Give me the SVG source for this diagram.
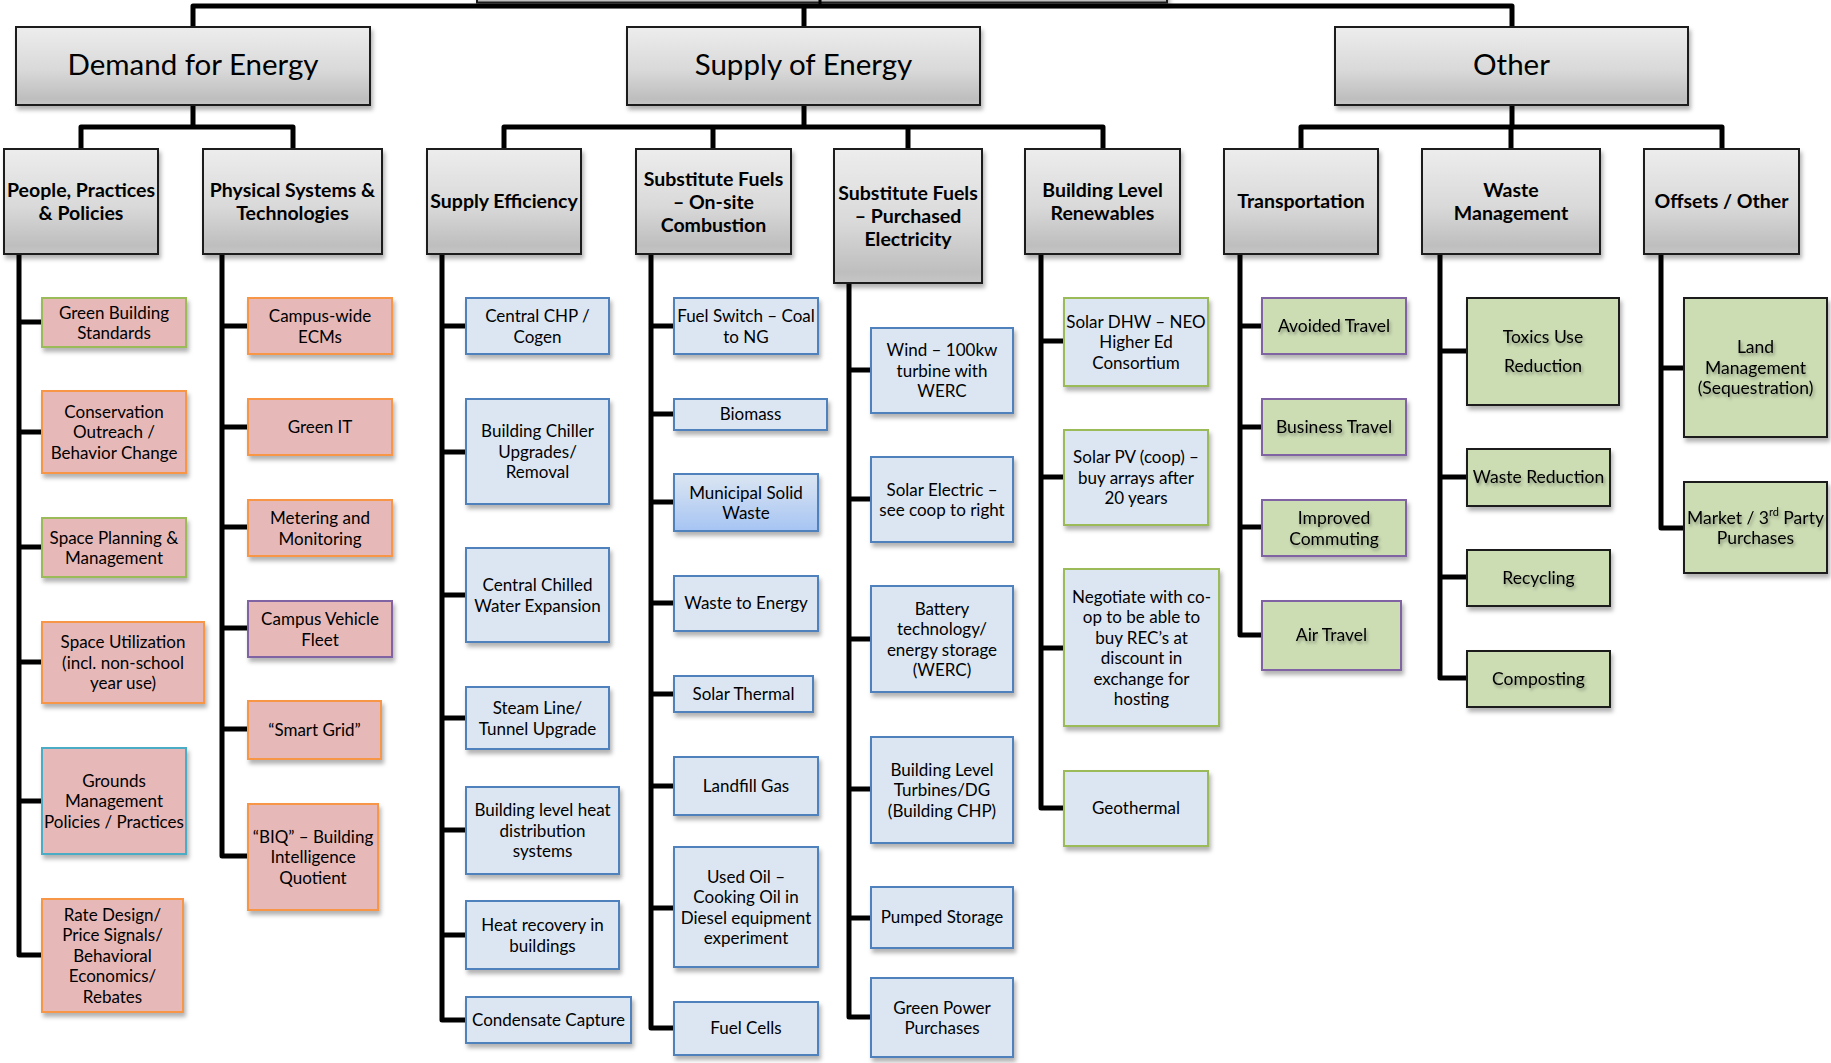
<svg xmlns="http://www.w3.org/2000/svg" width="1831" height="1063" viewBox="0 0 1831 1063">
<defs>
<linearGradient id="gg" x1="0" y1="0" x2="0" y2="1">
<stop offset="0" stop-color="#EDEDED"/><stop offset="0.55" stop-color="#D9D9D9"/><stop offset="0.92" stop-color="#BEBEBE"/><stop offset="1" stop-color="#C6C6C6"/>
</linearGradient>
<linearGradient id="msw" x1="0" y1="0" x2="0" y2="1">
<stop offset="0" stop-color="#DCE6F2"/><stop offset="1" stop-color="#A6C4F3"/>
</linearGradient>
<filter id="sh" x="-10%" y="-10%" width="125%" height="135%">
<feDropShadow dx="2" dy="4" stdDeviation="2" flood-color="#000" flood-opacity="0.3"/>
</filter>
<filter id="tsh" x="-10%" y="-20%" width="125%" height="160%">
<feDropShadow dx="1.5" dy="2.5" stdDeviation="1.5" flood-color="#000" flood-opacity="0.35"/>
</filter>
<style>
text{font-family:Lato,"Liberation Sans",sans-serif;fill:#000;text-anchor:middle;dominant-baseline:central}
.hdr rect{fill:url(#gg);stroke:#1a1a1a;stroke-width:2;filter:url(#sh)}
.top text{font-size:29.5px}
.mid text{font-size:19.5px;font-weight:bold}
.leaf rect{stroke-width:2;filter:url(#sh)}
.leaf text{font-size:17px}
.pink rect{fill:#E6B9B8}
.blue rect{fill:#DCE6F2}
.grn rect{fill:#CCDDB4}
.grn text{filter:url(#tsh);font-size:17.5px}
.so rect{stroke:#F79646}
.sg rect{stroke:#9BBB59}
.sb rect{stroke:#4F81BD}
.sc rect{stroke:#4BACC6}
.sp rect{stroke:#8064A2}
.sk rect{stroke:#1a1a1a}
</style>
</defs>
<rect width="1831" height="1063" fill="#fff"/>

<g id="root" class="hdr"><rect x="477" y="-20" width="690" height="22.5"/></g>

<g id="connectors" fill="none" stroke="#000" stroke-width="5" stroke-linejoin="round">
<path d="M193,27V6H1512V27M804,6V27"/>
<path d="M820,0V6" stroke-width="3"/>
<path d="M193,105V127M81,149V127H293V149"/>
<path d="M804,105V127M504,149V127H1103V149M713,127V149M908,127V149"/>
<path d="M1512,105V127M1301,149V127H1722V149M1511,127V149"/>
<path d="M19,254V955H42M19,322H42M19,432H42M19,547H42M19,662H42M19,801H42"/>
<path d="M222,254V856H248M222,326H248M222,427H248M222,527H248M222,628H248M222,729H248"/>
<path d="M442,254V1020H466M442,326H466M442,452H466M442,595H466M442,718H466M442,830H466M442,935H466"/>
<path d="M651,254V1028H674M651,326H674M651,414H674M651,502H674M651,603H674M651,694H674M651,786H674M651,908H674"/>
<path d="M849,283V1017H871M849,370H871M849,499H871M849,639H871M849,789H871M849,918H871"/>
<path d="M1041,254V808H1064M1041,341H1064M1041,477H1064M1041,648H1064"/>
<path d="M1240,254V635H1262M1240,326H1262M1240,427H1262M1240,527H1262"/>
<path d="M1440,254V678H1467M1440,351H1467M1440,477H1467M1440,577H1467"/>
<path d="M1661,254V528H1684M1661,368H1684"/>
</g>

<!-- top level -->
<g id="demand" class="hdr top"><rect x="16" y="27" width="354" height="78"/><text x="193" y="63">Demand for Energy</text></g>
<g id="supply" class="hdr top"><rect x="627" y="27" width="353" height="78"/><text x="803.5" y="63">Supply of Energy</text></g>
<g id="other" class="hdr top"><rect x="1335" y="27" width="353" height="78"/><text x="1511.5" y="63">Other</text></g>

<!-- second level -->
<g id="people" class="hdr mid"><rect x="4" y="149" width="154" height="105"/><text x="81" y="189"><tspan x="81">People, Practices</tspan><tspan x="81" dy="23">&amp; Policies</tspan></text></g>
<g id="physical" class="hdr mid"><rect x="203" y="149" width="179" height="105"/><text x="292.5" y="189"><tspan x="292.5">Physical Systems &amp;</tspan><tspan x="292.5" dy="23">Technologies</tspan></text></g>
<g id="supplyeff" class="hdr mid"><rect x="427" y="149" width="154" height="105"/><text x="504" y="200.5">Supply Efficiency</text></g>
<g id="onsite" class="hdr mid"><rect x="636" y="149" width="155" height="105"/><text x="713.5" y="177.5"><tspan x="713.5">Substitute Fuels</tspan><tspan x="713.5" dy="23">– On-site</tspan><tspan x="713.5" dy="23">Combustion</tspan></text></g>
<g id="purchased" class="hdr mid"><rect x="834" y="149" width="148" height="134"/><text x="908" y="192"><tspan x="908">Substitute Fuels</tspan><tspan x="908" dy="23">– Purchased</tspan><tspan x="908" dy="23">Electricity</tspan></text></g>
<g id="blr" class="hdr mid"><rect x="1025" y="149" width="155" height="105"/><text x="1102.5" y="189"><tspan x="1102.5">Building Level</tspan><tspan x="1102.5" dy="23">Renewables</tspan></text></g>
<g id="transport" class="hdr mid"><rect x="1224" y="149" width="154" height="105"/><text x="1301" y="200.5">Transportation</text></g>
<g id="waste" class="hdr mid"><rect x="1422" y="149" width="178" height="105"/><text x="1511" y="189"><tspan x="1511">Waste</tspan><tspan x="1511" dy="23">Management</tspan></text></g>
<g id="offsets" class="hdr mid"><rect x="1644" y="149" width="155" height="105"/><text x="1721.5" y="200.5">Offsets / Other</text></g>

<!-- People column -->
<g id="gbs" class="leaf pink sg"><rect x="42" y="298" width="144" height="49"/><text y="311.5"><tspan x="114">Green Building</tspan><tspan x="114" dy="20.5">Standards</tspan></text></g>
<g id="cons" class="leaf pink so"><rect x="42" y="391" width="144" height="82"/><text y="410.5"><tspan x="114">Conservation</tspan><tspan x="114" dy="20.5">Outreach /</tspan><tspan x="114" dy="20.5">Behavior Change</tspan></text></g>
<g id="spm" class="leaf pink sg"><rect x="42" y="518" width="144" height="59"/><text y="536.5"><tspan x="114">Space Planning &amp;</tspan><tspan x="114" dy="20.5">Management</tspan></text></g>
<g id="su" class="leaf pink so"><rect x="42" y="622" width="162" height="81"/><text y="641"><tspan x="123">Space Utilization</tspan><tspan x="123" dy="20.5">(incl. non-school</tspan><tspan x="123" dy="20.5">year use)</tspan></text></g>
<g id="gm" class="leaf pink sc"><rect x="42" y="748" width="144" height="106"/><text y="779.5"><tspan x="114">Grounds</tspan><tspan x="114" dy="20.5">Management</tspan><tspan x="114" dy="20.5">Policies / Practices</tspan></text></g>
<g id="rate" class="leaf pink so"><rect x="42" y="899" width="141" height="113"/><text y="913.5"><tspan x="112.5">Rate Design/</tspan><tspan x="112.5" dy="20.5">Price Signals/</tspan><tspan x="112.5" dy="20.5">Behavioral</tspan><tspan x="112.5" dy="20.5">Economics/</tspan><tspan x="112.5" dy="20.5">Rebates</tspan></text></g>

<!-- Physical column -->
<g id="ecms" class="leaf pink so"><rect x="248" y="298" width="144" height="56"/><text y="315"><tspan x="320">Campus-wide</tspan><tspan x="320" dy="20.5">ECMs</tspan></text></g>
<g id="greenit" class="leaf pink so"><rect x="248" y="399" width="144" height="56"/><text x="320" y="426">Green IT</text></g>
<g id="meter" class="leaf pink so"><rect x="248" y="500" width="144" height="56"/><text y="517"><tspan x="320">Metering and</tspan><tspan x="320" dy="20.5">Monitoring</tspan></text></g>
<g id="fleet" class="leaf pink sp"><rect x="248" y="601" width="144" height="56"/><text y="618"><tspan x="320">Campus Vehicle</tspan><tspan x="320" dy="20.5">Fleet</tspan></text></g>
<g id="smartgrid" class="leaf pink so"><rect x="248" y="701" width="133" height="58"/><text x="314.5" y="729">“Smart Grid”</text></g>
<g id="biq" class="leaf pink so"><rect x="248" y="804" width="130" height="106"/><text y="835.5"><tspan x="313">“BIQ” – Building</tspan><tspan x="313" dy="20.5">Intelligence</tspan><tspan x="313" dy="20.5">Quotient</tspan></text></g>

<!-- Supply efficiency column -->
<g id="chp" class="leaf blue sb"><rect x="466" y="298" width="143" height="56"/><text y="315"><tspan x="537.5">Central CHP /</tspan><tspan x="537.5" dy="20.5">Cogen</tspan></text></g>
<g id="chiller" class="leaf blue sb"><rect x="466" y="399" width="143" height="105"/><text y="430"><tspan x="537.5">Building Chiller</tspan><tspan x="537.5" dy="20.5">Upgrades/</tspan><tspan x="537.5" dy="20.5">Removal</tspan></text></g>
<g id="ccw" class="leaf blue sb"><rect x="466" y="548" width="143" height="94"/><text y="584"><tspan x="537.5">Central Chilled</tspan><tspan x="537.5" dy="20.5">Water Expansion</tspan></text></g>
<g id="steam" class="leaf blue sb"><rect x="466" y="687" width="143" height="62"/><text y="707"><tspan x="537.5">Steam Line/</tspan><tspan x="537.5" dy="20.5">Tunnel Upgrade</tspan></text></g>
<g id="heatdist" class="leaf blue sb"><rect x="466" y="787" width="153" height="87"/><text y="809"><tspan x="542.5">Building level heat</tspan><tspan x="542.5" dy="20.5">distribution</tspan><tspan x="542.5" dy="20.5">systems</tspan></text></g>
<g id="heatrec" class="leaf blue sb"><rect x="466" y="901" width="153" height="68"/><text y="924"><tspan x="542.5">Heat recovery in</tspan><tspan x="542.5" dy="20.5">buildings</tspan></text></g>
<g id="condensate" class="leaf blue sb"><rect x="466" y="997" width="165" height="46"/><text x="548.5" y="1019">Condensate Capture</text></g>

<!-- On-site column -->
<g id="fuelswitch" class="leaf blue sb"><rect x="674" y="298" width="144" height="56"/><text y="315"><tspan x="746">Fuel Switch – Coal</tspan><tspan x="746" dy="20.5">to NG</tspan></text></g>
<g id="biomass" class="leaf blue sb"><rect x="674" y="399" width="153" height="31"/><text x="750.5" y="413.5">Biomass</text></g>
<g id="msw" class="leaf sb"><rect x="674" y="474" width="144" height="57" fill="url(#msw)"/><text y="491.5"><tspan x="746">Municipal Solid</tspan><tspan x="746" dy="20.5">Waste</tspan></text></g>
<g id="wte" class="leaf blue sb"><rect x="674" y="576" width="144" height="55"/><text x="746" y="602.5">Waste to Energy</text></g>
<g id="solarthermal" class="leaf blue sb"><rect x="674" y="676" width="139" height="36"/><text x="743.5" y="693">Solar Thermal</text></g>
<g id="landfill" class="leaf blue sb"><rect x="674" y="757" width="144" height="58"/><text x="746" y="785">Landfill Gas</text></g>
<g id="usedoil" class="leaf blue sb"><rect x="674" y="847" width="144" height="120"/><text y="875.5"><tspan x="746">Used Oil –</tspan><tspan x="746" dy="20.5">Cooking Oil in</tspan><tspan x="746" dy="20.5">Diesel equipment</tspan><tspan x="746" dy="20.5">experiment</tspan></text></g>
<g id="fuelcells" class="leaf blue sb"><rect x="674" y="1002" width="144" height="53"/><text x="746" y="1027.5">Fuel Cells</text></g>

<!-- Purchased column -->
<g id="wind" class="leaf blue sb"><rect x="871" y="328" width="142" height="85"/><text y="349"><tspan x="942">Wind – 100kw</tspan><tspan x="942" dy="20.5">turbine with</tspan><tspan x="942" dy="20.5">WERC</tspan></text></g>
<g id="solarelec" class="leaf blue sb"><rect x="871" y="457" width="142" height="85"/><text y="488.5"><tspan x="942">Solar Electric –</tspan><tspan x="942" dy="20.5">see coop to right</tspan></text></g>
<g id="battery" class="leaf blue sb"><rect x="871" y="586" width="142" height="106"/><text y="607.5"><tspan x="942">Battery</tspan><tspan x="942" dy="20.5">technology/</tspan><tspan x="942" dy="20.5">energy storage</tspan><tspan x="942" dy="20.5">(WERC)</tspan></text></g>
<g id="blturbines" class="leaf blue sb"><rect x="871" y="737" width="142" height="106"/><text y="768.5"><tspan x="942">Building Level</tspan><tspan x="942" dy="20.5">Turbines/DG</tspan><tspan x="942" dy="20.5">(Building CHP)</tspan></text></g>
<g id="pumped" class="leaf blue sb"><rect x="871" y="887" width="142" height="61"/><text x="942" y="916.5">Pumped Storage</text></g>
<g id="greenpower" class="leaf blue sb"><rect x="871" y="978" width="142" height="79"/><text y="1006.5"><tspan x="942">Green Power</tspan><tspan x="942" dy="20.5">Purchases</tspan></text></g>

<!-- Building level renewables column -->
<g id="solardhw" class="leaf blue sg"><rect x="1064" y="298" width="144" height="88"/><text y="320.5"><tspan x="1136">Solar DHW – NEO</tspan><tspan x="1136" dy="20.5">Higher Ed</tspan><tspan x="1136" dy="20.5">Consortium</tspan></text></g>
<g id="solarpv" class="leaf blue sg"><rect x="1064" y="430" width="144" height="95"/><text y="456"><tspan x="1136">Solar PV (coop) –</tspan><tspan x="1136" dy="20.5">buy arrays after</tspan><tspan x="1136" dy="20.5">20 years</tspan></text></g>
<g id="negotiate" class="leaf blue sg"><rect x="1064" y="569" width="155" height="157"/><text y="595.5"><tspan x="1141.5">Negotiate with co-</tspan><tspan x="1141.5" dy="20.5">op to be able to</tspan><tspan x="1141.5" dy="20.5">buy REC’s at</tspan><tspan x="1141.5" dy="20.5">discount in</tspan><tspan x="1141.5" dy="20.5">exchange for</tspan><tspan x="1141.5" dy="20.5">hosting</tspan></text></g>
<g id="geothermal" class="leaf blue sg"><rect x="1064" y="771" width="144" height="75"/><text x="1136" y="807.5">Geothermal</text></g>

<!-- Transportation column -->
<g id="avoided" class="leaf grn sp"><rect x="1262" y="298" width="144" height="56"/><text x="1334" y="325">Avoided Travel</text></g>
<g id="business" class="leaf grn sp"><rect x="1262" y="399" width="144" height="56"/><text x="1334" y="426">Business Travel</text></g>
<g id="commuting" class="leaf grn sp"><rect x="1262" y="500" width="144" height="56"/><text y="517"><tspan x="1334">Improved</tspan><tspan x="1334" dy="20.5">Commuting</tspan></text></g>
<g id="airtravel" class="leaf grn sp"><rect x="1262" y="601" width="139" height="69"/><text x="1331.5" y="634.5">Air Travel</text></g>

<!-- Waste column -->
<g id="toxics" class="leaf grn sk"><rect x="1467" y="298" width="152" height="107"/><text y="336"><tspan x="1543">Toxics Use</tspan><tspan x="1543" dy="29">Reduction</tspan></text></g>
<g id="wastered" class="leaf grn sk"><rect x="1467" y="449" width="143" height="57"/><text x="1538.5" y="476.5">Waste Reduction</text></g>
<g id="recycling" class="leaf grn sk"><rect x="1467" y="550" width="143" height="56"/><text x="1538.5" y="577">Recycling</text></g>
<g id="composting" class="leaf grn sk"><rect x="1467" y="651" width="143" height="56"/><text x="1538.5" y="678">Composting</text></g>

<!-- Offsets column -->
<g id="land" class="leaf grn sk"><rect x="1684" y="298" width="143" height="139"/><text y="346"><tspan x="1755.5">Land</tspan><tspan x="1755.5" dy="20.5">Management</tspan><tspan x="1755.5" dy="20.5">(Sequestration)</tspan></text></g>
<g id="market" class="leaf grn sk"><rect x="1684" y="482" width="143" height="91"/><text y="516.5"><tspan x="1755.5">Market / 3<tspan font-size="11" dy="-6">rd</tspan><tspan dy="6"> Party</tspan></tspan><tspan x="1755.5" dy="20.5">Purchases</tspan></text></g>
</svg>
